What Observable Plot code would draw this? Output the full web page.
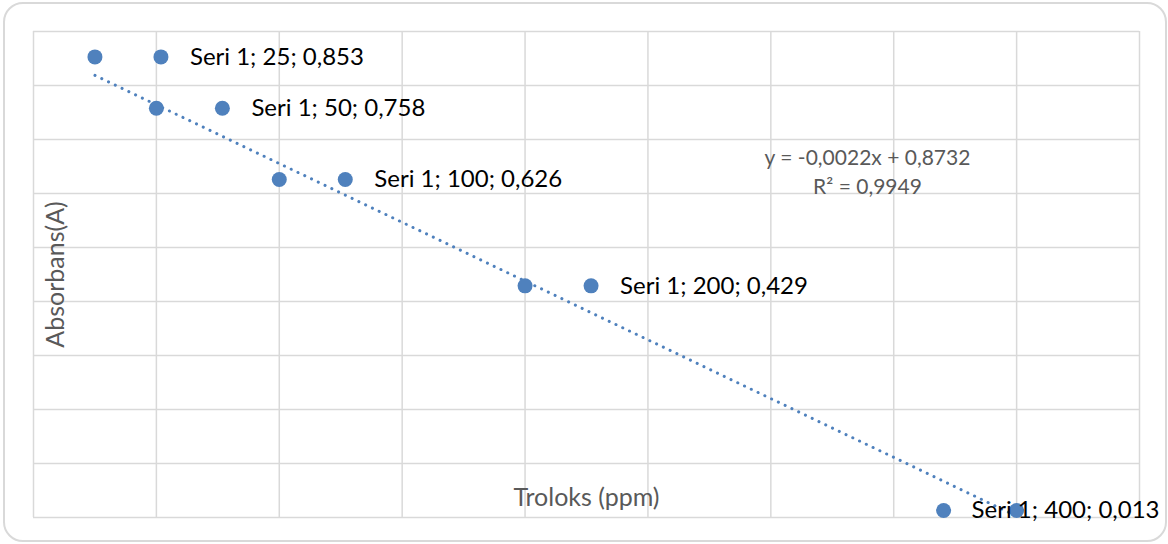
<!DOCTYPE html>
<html>
<head>
<meta charset="utf-8">
<script src="https://cdn.jsdelivr.net/npm/d3@7"></script>
<script src="https://cdn.jsdelivr.net/npm/@observablehq/plot@0.6"></script>
<style>
  html, body { margin: 0; padding: 0; background: #fff; }
  #wrap { position: relative; width: 1168px; height: 544px; overflow: hidden; }
  #border { position: absolute; left: 3px; top: 2px; width: 1160px; height: 536px;
            border: 2px solid #d9d9d9; border-radius: 20px; pointer-events: none; }
  #chart { position: absolute; left: 0; top: 0; }
</style>
</head>
<body>
<div id="wrap"><div id="chart"></div><div id="border"></div></div>
<script>
const seriesName = "Seri 1";
const troloks = [25, 50, 100, 200, 400];
const absorbans = [0.853, 0.758, 0.626, 0.429, 0.013];
const xTicks = [0, 50, 100, 150, 200, 250, 300, 350, 400, 450];
const yTicks = [0, 0.1, 0.2, 0.3, 0.4, 0.5, 0.6, 0.7, 0.8, 0.9];
const xTitle = "Troloks (ppm)";
const yTitle = "Absorbans(A)";
const equationText = "y = -0,0022x + 0,8732\nR² = 0,9949";

const fmt = v => String(v).replace(".", ",");
const data = troloks.map((x, i) => ({
  x, y: absorbans[i],
  label: `${seriesName}; ${x}; ${fmt(absorbans[i].toFixed(3))}`
}));
const inside = data.slice(0, 4);
const lastOne = data.slice(4);

const blue = "#4f81bd";
const grid = "#d9d9d9";
const gray = "#595959";
const font = "Lato, 'Open Sans', sans-serif";

const chart = Plot.plot({
  width: 1168,
  height: 544,
  marginLeft: 33,
  marginRight: 29,
  marginTop: 31,
  marginBottom: 27,
  x: { domain: [0, 450], axis: null },
  y: { domain: [0, 0.9], axis: null },
  style: { fontFamily: font, background: "transparent" },
  marks: [
    Plot.gridX(xTicks, { stroke: grid, strokeOpacity: 1, strokeWidth: 1.5 }),
    Plot.gridY(yTicks, { stroke: grid, strokeOpacity: 1, strokeWidth: 1.5 }),
    Plot.text([xTitle], { frameAnchor: "bottom", lineAnchor: "middle", dy: -20, fontSize: 25, fill: gray, fontFamily: font }),
    Plot.text([yTitle], { frameAnchor: "left", textAnchor: "middle", lineAnchor: "middle", dx: 22, rotate: -90, fontSize: 25, fill: gray, fontFamily: font }),
    Plot.text([equationText], { frameAnchor: "top", lineAnchor: "middle", dx: 281, dy: 138.5, fontSize: 21, lineHeight: 1.38, fill: gray, fontFamily: font }),
    Plot.linearRegressionY(data, { x: "x", y: "y", ci: 0, stroke: blue, strokeWidth: 3,
      strokeDasharray: "0.1 7.4", strokeLinecap: "round" }),
    Plot.dot(data, { x: "x", y: "y", r: 7.5, fill: blue, stroke: "none" }),
    // data label legend keys
    Plot.dot(inside, { x: "x", y: "y", r: 7.5, fill: blue, stroke: "none", dx: 66 }),
    Plot.dot(lastOne, { x: "x", y: "y", r: 7.5, fill: blue, stroke: "none", dx: -73 }),
    // data labels
    Plot.text(inside, { x: "x", y: "y", text: "label", dx: 95, textAnchor: "start", lineAnchor: "middle", fontSize: 24, fill: "#000", fontFamily: font }),
    Plot.text(lastOne, { x: "x", y: "y", text: "label", dx: -45, textAnchor: "start", lineAnchor: "middle", fontSize: 24, fill: "#000", fontFamily: font })
  ]
});
document.getElementById("chart").appendChild(chart);
</script>
</body>
</html>
